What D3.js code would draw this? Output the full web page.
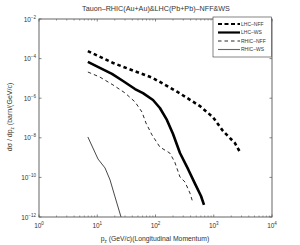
<!DOCTYPE html>
<html><head><meta charset="utf-8">
<script src="https://cdn.jsdelivr.net/npm/d3@7"></script>
<style>body{margin:0;background:#fff}svg{display:block;font-family:"Liberation Sans",Arial,sans-serif}</style>
</head><body><svg id="c" width="300" height="245"></svg>
<script>
const title = "Tauon\u2013RHIC(Au+Au)&LHC(Pb+Pb)\u2013NFF&WS";
const seriesNames = ["LHC\u2013NFF","LHC\u2013WS","RHIC\u2013NFF","RHIC\u2013WS"];
const lhcNffX = [6.9,18.7,90,243,580,970,1440,2300,2820];
const lhcNffY = [2.4e-4,6e-5,1.05e-5,2e-6,4e-7,1.1e-7,2.2e-8,5.5e-9,1.9e-9];
const lhcWsX = [6.9,11.1,17.9,27.7,44.5,61,90.6,119,157,200,263,363,478,604,680];
const lhcWsY = [6.8e-5,3.4e-5,1.7e-5,7.4e-6,2.9e-6,1.8e-6,8.1e-7,3.2e-7,8e-8,1.55e-8,1.7e-9,2.6e-10,4.7e-11,1.15e-11,4.1e-12];
const rhicNffX = [6.9,11.1,18.6,29.9,44.5,58.6,68.6,87,119,176,214,263,320,391,440];
const rhicNffY = [2.1e-5,1.17e-5,4.7e-6,1.85e-6,6.5e-7,2e-7,5.6e-8,1.4e-8,3.4e-9,1.7e-9,6e-10,1.05e-10,5.9e-11,1.6e-11,5.1e-12];
const rhicWsX = [6.9,10.3,13.6,16.6,20.2,25.6];
const rhicWsY = [1.1e-8,8.5e-10,3e-10,7.4e-11,1.03e-11,1e-12];
const xTickExp = [0,1,2,3,4];
const yTickExp = [-2,-4,-6,-8,-10,-12];
const xLabel = "(GeV/c)(Longitudinal Momentum)";
const yLabel = "(barn/(GeV/c)";

const svg = d3.select("#c");
const L=39,R=272,T=19,B=217;
const x = d3.scaleLog().domain([1,1e4]).range([L,R]);
const y = d3.scaleLog().domain([1e-12,1e-2]).range([B,T]);
const axisCol="#555";

svg.append("rect").attr("x",L).attr("y",T).attr("width",R-L).attr("height",B-T).attr("fill","#fff");

const minor=[];
for(let e=0;e<4;e++) for(let k=2;k<=9;k++) minor.push(k*Math.pow(10,e));
const g=svg.append("g");
minor.forEach(v=>{
  g.append("line").attr("x1",x(v)).attr("x2",x(v)).attr("y1",B).attr("y2",B-1.5).attr("stroke",axisCol).attr("stroke-width",0.6);
  g.append("line").attr("x1",x(v)).attr("x2",x(v)).attr("y1",T).attr("y2",T+1.5).attr("stroke",axisCol).attr("stroke-width",0.6);
});
xTickExp.forEach(e=>{
  const v=Math.pow(10,e);
  g.append("line").attr("x1",x(v)).attr("x2",x(v)).attr("y1",B).attr("y2",B-2.5).attr("stroke",axisCol).attr("stroke-width",0.7);
  g.append("line").attr("x1",x(v)).attr("x2",x(v)).attr("y1",T).attr("y2",T+2.5).attr("stroke",axisCol).attr("stroke-width",0.7);
  const t=g.append("text").attr("x",x(v)).attr("y",B+11).attr("text-anchor","middle").attr("font-size",6.5).attr("fill","#333");
  t.append("tspan").text("10");
  t.append("tspan").attr("dy",-3).attr("font-size",4.5).text(e);
});
yTickExp.forEach(e=>{
  const v=Math.pow(10,e);
  g.append("line").attr("x1",L).attr("x2",L+2.5).attr("y1",y(v)).attr("y2",y(v)).attr("stroke",axisCol).attr("stroke-width",0.7);
  g.append("line").attr("x1",R).attr("x2",R-2.5).attr("y1",y(v)).attr("y2",y(v)).attr("stroke",axisCol).attr("stroke-width",0.7);
  const t=g.append("text").attr("x",L-3).attr("y",y(v)+2.5).attr("text-anchor","end").attr("font-size",6.5).attr("fill","#333");
  t.append("tspan").text("10");
  t.append("tspan").attr("dy",-3).attr("font-size",4.5).text(String(e).replace("-","\u2212"));
});

const line=d3.line().x(d=>x(d[0])).y(d=>y(d[1]));
const series=[
  {x:lhcNffX,y:lhcNffY,w:2.6,dash:"3.5,3",col:"#000"},
  {x:lhcWsX,y:lhcWsY,w:2.6,dash:null,col:"#000"},
  {x:rhicNffX,y:rhicNffY,w:0.9,dash:"3.5,3",col:"#111"},
  {x:rhicWsX,y:rhicWsY,w:0.9,dash:null,col:"#333"}
];
svg.append("clipPath").attr("id","cp").append("rect").attr("x",L).attr("y",T).attr("width",R-L).attr("height",B-T);
const pg=svg.append("g").attr("clip-path","url(#cp)");
series.forEach(s=>{
  const d=s.x.map((v,i)=>[v,s.y[i]]);
  const p=pg.append("path").attr("d",line(d)).attr("fill","none").attr("stroke",s.col).attr("stroke-width",s.w).attr("stroke-linejoin","round");
  if(s.dash)p.attr("stroke-dasharray",s.dash);
});

svg.append("rect").attr("x",L).attr("y",T).attr("width",R-L).attr("height",B-T).attr("fill","none").attr("stroke",axisCol).attr("stroke-width",0.9);

const lg=svg.append("g");
lg.append("rect").attr("x",213).attr("y",17).attr("width",58.5).attr("height",40).attr("fill","#fff").attr("stroke","#333").attr("stroke-width",0.6);
const ly=[24,32.5,41,49.5];
series.forEach((s,i)=>{
  const l=lg.append("line").attr("x1",218).attr("x2",240).attr("y1",ly[i]).attr("y2",ly[i]).attr("stroke",s.col).attr("stroke-width",s.w===0.9?0.9:2.2);
  if(s.dash)l.attr("stroke-dasharray",s.w>1?"4,2.5":"3.5,3");
  if(i===3)l.attr("stroke","#666").attr("stroke-width",1.1);
  lg.append("text").attr("x",241).attr("y",ly[i]+1.8).attr("font-size",5).attr("fill","#333").text(seriesNames[i]);
});

svg.append("text").attr("x",156).attr("y",11).attr("text-anchor","middle").attr("font-size",7.2).attr("fill","#333").text(title);
const xl=svg.append("text").attr("x",155).attr("y",241).attr("text-anchor","middle").attr("font-size",6.8).attr("fill","#333");
xl.append("tspan").text("p");
xl.append("tspan").attr("dy",1.5).attr("font-size",4.5).text("z");
xl.append("tspan").attr("dy",-1.5).text(" "+xLabel);
const yl=svg.append("text").attr("transform","translate(12,117) rotate(-90)").attr("text-anchor","middle").attr("font-size",7).attr("fill","#333");
yl.append("tspan").text("d\u03C3 / dp");
yl.append("tspan").attr("dy",1.5).attr("font-size",4.5).text("z");
yl.append("tspan").attr("dy",-1.5).text(" "+yLabel);
</script></body></html>
